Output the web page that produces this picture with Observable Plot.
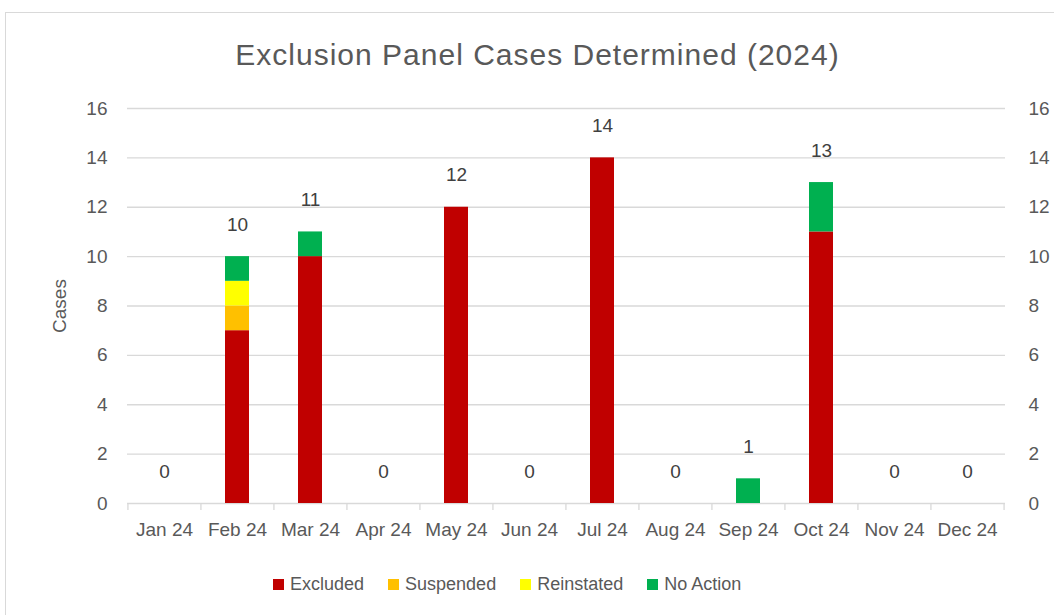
<!DOCTYPE html>
<html><head><meta charset="utf-8">
<script src="https://cdn.jsdelivr.net/npm/d3@7"></script>
<script src="https://cdn.jsdelivr.net/npm/@observablehq/plot@0.6"></script>
<style>
html,body{margin:0;padding:0;background:#fff;overflow:hidden;width:1054px;height:615px;}
body{font-family:"Liberation Sans",Arial,sans-serif;color:#595959;position:relative;}
#frame{position:absolute;left:5px;top:12px;width:1100px;height:700px;border:1px solid #d9d9d9;pointer-events:none;}
#title{position:relative;width:1075px;height:80px;box-sizing:border-box;padding-top:39px;line-height:32px;font-size:30px;letter-spacing:1px;text-align:center;color:#595959;}
#chart{position:relative;height:480px;}
#legend{position:absolute;top:574px;left:273px;display:flex;align-items:center;font-size:18px;line-height:20px;color:#595959;}
.item{display:flex;align-items:center;margin-right:24px;}
.sw{width:11px;height:11px;margin-right:6px;}
</style></head>
<body>
<div id="frame"></div>
<div id="title">Exclusion Panel Cases Determined (2024)</div>
<div id="chart"></div>
<div id="legend"></div>
<script>
const months = ["Jan 24","Feb 24","Mar 24","Apr 24","May 24","Jun 24","Jul 24","Aug 24","Sep 24","Oct 24","Nov 24","Dec 24"];
const excluded   = [0, 7, 10, 0, 12, 0, 14, 0, 0, 11, 0, 0];
const suspended  = [0, 1, 0, 0, 0, 0, 0, 0, 0, 0, 0, 0];
const reinstated = [0, 1, 0, 0, 0, 0, 0, 0, 0, 0, 0, 0];
const noAction   = [0, 1, 1, 0, 0, 0, 0, 0, 1, 2, 0, 0];
const seriesNames = ["Excluded", "Suspended", "Reinstated", "No Action"];
const seriesColors = ["#C00000", "#FFC000", "#FFFF00", "#00B050"];
const yTicks = [0, 2, 4, 6, 8, 10, 12, 14, 16];
const yLabel = "Cases";

const seriesValues = [excluded, suspended, reinstated, noAction];
const rows = [];
months.forEach((m, i) => {
  seriesNames.forEach((s, j) => {
    const v = seriesValues[j][i];
    if (v > 0) rows.push({month: m, series: s, value: v});
  });
});
const totals = months.map((m, i) => ({month: m, total: seriesValues.reduce((a, arr) => a + arr[i], 0)}));

const W = 1054, H = 480, mL = 127, mR = 49, mT = 28, mB = 57;
const halfStep = (W - mL - mR) / months.length / 2;

const chart = Plot.plot({
  width: W, height: H,
  marginLeft: mL, marginRight: mR, marginTop: mT, marginBottom: mB,
  style: {fontFamily: '"Liberation Sans", Arial, sans-serif', fontSize: "19px", color: "#595959", background: "transparent", overflow: "visible"},
  x: {domain: months, paddingInner: 0.67, paddingOuter: 0.335, label: null},
  y: {domain: [0, 16], label: null},
  color: {domain: seriesNames, range: seriesColors},
  marks: [
    Plot.ruleY(yTicks.slice(1), {stroke: "#d9d9d9", strokeWidth: 1.3}),
    Plot.ruleY([0], {stroke: "#d9d9d9", strokeWidth: 1.3}),
    Plot.ruleX(months, {x: d => d, y1: 0, y2: 0, insetBottom: -7, dx: -halfStep, stroke: "#d9d9d9", strokeWidth: 1.3}),
    Plot.ruleX([months[months.length - 1]], {x: d => d, y1: 0, y2: 0, insetBottom: -7, dx: halfStep, stroke: "#d9d9d9", strokeWidth: 1.3}),
    Plot.barY(rows, {x: "month", y: "value", fill: "series"}),
    Plot.text(totals, {x: "month", y: "total", text: d => String(d.total), dy: -32, fill: "#404040", fontSize: 19}),
    Plot.axisX({tickSize: 0, tickPadding: 19, fontSize: 19, fill: "#595959"}),
    Plot.axisY({anchor: "left", ticks: yTicks, tickSize: 0, tickPadding: 20, fontSize: 19, fill: "#595959",
                label: yLabel, labelAnchor: "center", labelArrow: "none", labelOffset: 75}),
    Plot.axisY({anchor: "right", ticks: yTicks, tickSize: 0, tickPadding: 23, fontSize: 19, fill: "#595959", label: null})
  ]
});
document.getElementById("chart").appendChild(chart);

const legend = document.getElementById("legend");
seriesNames.forEach((s, j) => {
  const it = document.createElement("div");
  it.className = "item";
  const sw = document.createElement("div");
  sw.className = "sw";
  sw.style.background = seriesColors[j];
  const t = document.createElement("span");
  t.textContent = s;
  it.appendChild(sw); it.appendChild(t);
  legend.appendChild(it);
});
</script>
</body></html>
